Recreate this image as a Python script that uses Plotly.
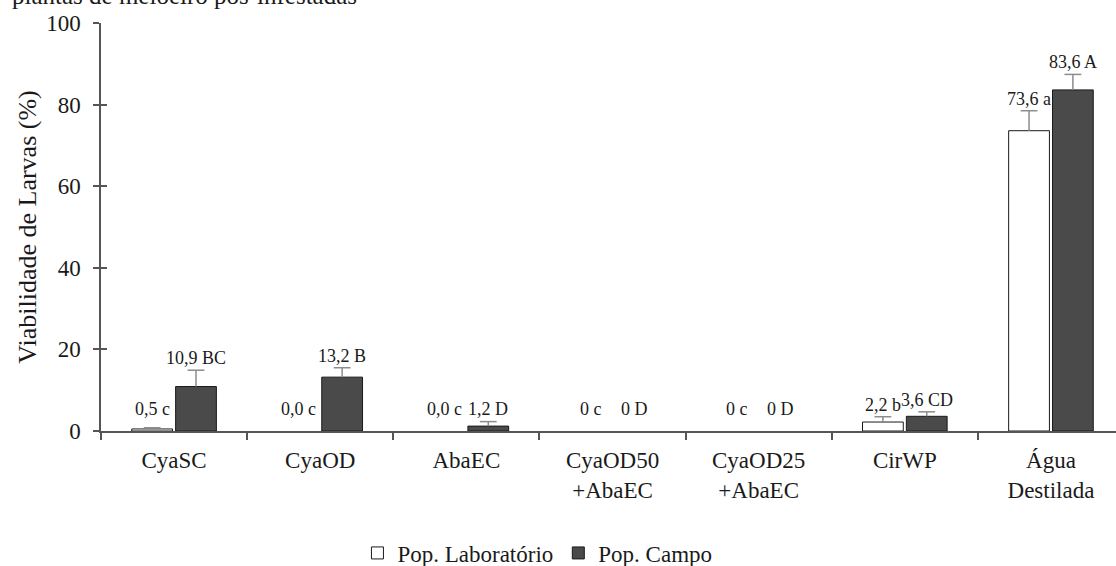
import plotly.graph_objects as go

# Treatments and larval viability (%) for the two populations
categories = ["CyaSC", "CyaOD", "AbaEC", "CyaOD50<br>+AbaEC", "CyaOD25<br>+AbaEC", "CirWP", "Água<br>Destilada"]
lab_values = [0.5, 0.0, 0.0, 0.0, 0.0, 2.2, 73.6]
field_values = [10.9, 13.2, 1.2, 0.0, 0.0, 3.6, 83.6]
lab_errors = [0.3, None, None, None, None, 1.3, 4.9]
field_errors = [4.0, 2.3, 1.1, None, None, 1.1, 3.8]
lab_letters = ["0,5 c", "0,0 c", "0,0 c", "0 c", "0 c", "2,2 b", "73,6 a"]
field_letters = ["10,9 BC", "13,2 B", "1,2 D", "0 D", "0 D", "3,6 CD", "83,6 A"]
y_ticks = [0, 20, 40, 60, 80, 100]

FONT = "Liberation Serif"
TEXT = "#1a1a1a"
AXIS = "#555555"
ERR = "#8c8c8c"
OUTLINE = "#1a1a1a"

BARGAP = 0.4
X_RANGE = [-0.5, 6.445]
SLOT = (1 - BARGAP) / 2          # width given to each population inside a group
OFFSETS = (-SLOT / 2, SLOT / 2)  # bar centres relative to the category centre


def visible(values):
    # zero-height bars are left undrawn
    return [1 if v > 0 else 0 for v in values]


def label_base(values, errors):
    return [max(v + (e or 0), 2.5) for v, e in zip(values, errors)]


fig = go.Figure()
fig.add_trace(go.Bar(
    name="Pop. Laboratório", x=categories, y=lab_values,
    marker=dict(color="#ffffff", opacity=visible(lab_values),
                line=dict(color=OUTLINE, width=1)),
))
fig.add_trace(go.Bar(
    name="Pop. Campo", x=categories, y=field_values,
    marker=dict(color="#4a4a4a", opacity=visible(field_values),
                line=dict(color=OUTLINE, width=1)),
))

# upper-only error bars: a stem from the bar top plus a cap, on a numeric twin x axis
for values, errors, off in ((lab_values, lab_errors, OFFSETS[0]),
                            (field_values, field_errors, OFFSETS[1])):
    sx, sy, cx, cy = [], [], [], []
    for i, (v, e) in enumerate(zip(values, errors)):
        if not e:
            continue
        sx += [i + off, i + off, None]
        sy += [v, v + e, None]
        cx.append(i + off)
        cy.append(v + e)
    fig.add_trace(go.Scatter(x=sx, y=sy, xaxis="x2", mode="lines",
                             line=dict(color=ERR, width=1.5),
                             showlegend=False, hoverinfo="skip"))
    fig.add_trace(go.Scatter(x=cx, y=cy, xaxis="x2", mode="markers",
                             marker=dict(symbol="line-ew-open", size=12, color=ERR,
                                         line=dict(color=ERR, width=1.5)),
                             showlegend=False, hoverinfo="skip"))

# value + letter labels above each bar (or its error bar)
for values, errors, letters, off in ((lab_values, lab_errors, lab_letters, OFFSETS[0]),
                                     (field_values, field_errors, field_letters, OFFSETS[1])):
    for i, (y, txt) in enumerate(zip(label_base(values, errors), letters)):
        fig.add_annotation(x=i + off, y=y, text=txt, xref="x2", yref="y",
                           yanchor="bottom", showarrow=False,
                           font=dict(family=FONT, size=18, color=TEXT))

# heading line, partly above the page edge
fig.add_annotation(x=0, xref="paper", y=1, yref="paper", xshift=-91, yshift=28,
                   xanchor="left", yanchor="middle", showarrow=False,
                   text="plantas de meloeiro pós-infestadas",
                   font=dict(family=FONT, size=25, color=TEXT))

fig.update_layout(
    width=1116, height=566,
    margin=dict(l=101, r=0, t=23, b=135),
    paper_bgcolor="white", plot_bgcolor="white",
    barmode="group", bargap=BARGAP, bargroupgap=0.07,
    font=dict(family=FONT, size=23, color=TEXT),
    showlegend=True,
    legend=dict(orientation="h", x=0.43, xref="paper", y=0.023, yref="container",
                xanchor="center", yanchor="middle",
                font=dict(family=FONT, size=23, color=TEXT), itemwidth=30,
                traceorder="normal"),
    xaxis=dict(
        type="category", range=X_RANGE, tickson="boundaries",
        ticks="outside", ticklen=7, tickcolor=AXIS, tickwidth=1.5,
        showline=True, linecolor=AXIS, linewidth=1.5, showgrid=False,
        ticklabelstandoff=8, automargin=False,
        tickfont=dict(family=FONT, size=23, color=TEXT), zeroline=False,
    ),
    xaxis2=dict(type="linear", range=X_RANGE, overlaying="x", visible=False),
    yaxis=dict(
        range=[0, 100], tickvals=y_ticks, ticks="outside", ticklen=6,
        tickcolor=AXIS, tickwidth=1.5, showline=True, linecolor=AXIS, linewidth=1.5,
        showgrid=False, zeroline=False, ticklabelstandoff=8, automargin=False,
        tickfont=dict(family=FONT, size=23, color=TEXT),
        title=dict(text="Viabilidade de Larvas (%)", font=dict(family=FONT, size=26, color=TEXT),
                   standoff=2),
    ),
    yaxis2=dict(
        range=[0, 100], tickvals=y_ticks, ticks="inside", ticklen=6, tickcolor=AXIS,
        tickwidth=1.5, showticklabels=False, showline=False, showgrid=False,
        zeroline=False, overlaying="y", side="left",
    ),
)
# invisible trace to show the inner half of the y ticks
fig.add_trace(go.Scatter(x=[categories[0]], y=[0], yaxis="y2", mode="markers",
                         marker=dict(opacity=0), showlegend=False, hoverinfo="skip"))

fig.write_html("out.html")
